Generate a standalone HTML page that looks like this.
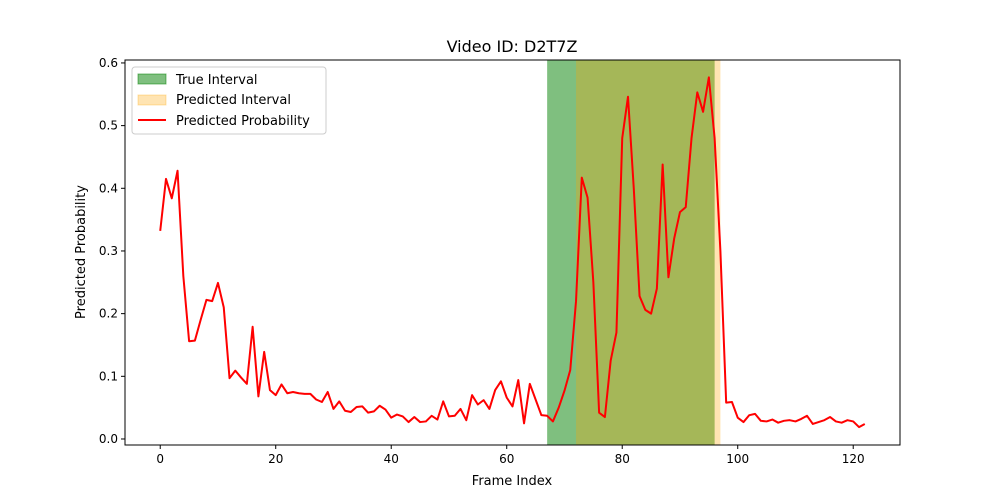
<!DOCTYPE html>
<html><head><meta charset="utf-8"><style>
html,body{margin:0;padding:0;background:#fff;}
svg{display:block;font-family:"DejaVu Sans","Liberation Sans",sans-serif;}
</style></head><body>
<svg id="chart" width="1000" height="500" viewBox="0 0 1000 500">
<text x="512" y="52" font-size="16" text-anchor="middle">Video ID: D2T7Z</text>
<g id="bands"></g>
<g id="xticks"></g>
<g id="yticks"></g>
<polyline id="line" fill="none" stroke="#ff0000" stroke-width="2" stroke-linejoin="round"/>
<rect x="125" y="60" width="775" height="385" fill="none" stroke="#000" stroke-width="1"/>
<text x="512" y="485" font-size="13" text-anchor="middle">Frame Index</text>
<text x="0" y="0" font-size="13" text-anchor="middle" transform="translate(85,252) rotate(-90)">Predicted Probability</text>
<g>
<rect x="132" y="67" width="194" height="67" rx="3" fill="#fff" fill-opacity="0.8" stroke="#ccc"/>
<rect x="138" y="74" width="28" height="10" fill="#008000" fill-opacity="0.5" stroke="#008000" stroke-opacity="0.5"/>
<text x="176" y="84" font-size="13">True Interval</text>
<rect x="138" y="95" width="28" height="10" fill="#ffa500" fill-opacity="0.3" stroke="#ffa500" stroke-opacity="0.3"/>
<text x="176" y="104" font-size="13">Predicted Interval</text>
<line x1="138" y1="120" x2="166" y2="120" stroke="#ff0000" stroke-width="2"/>
<text x="176" y="125" font-size="13">Predicted Probability</text>
</g>
</svg>
<script>
const probs=[0.332,0.415,0.384,0.428,0.26,0.156,0.157,0.19,0.222,0.22,0.249,0.21,0.097,0.109,0.098,0.088,0.179,0.068,0.139,0.078,0.07,0.087,0.073,0.075,0.073,0.072,0.072,0.063,0.059,0.075,0.048,0.06,0.045,0.043,0.051,0.052,0.042,0.044,0.053,0.047,0.034,0.039,0.036,0.027,0.035,0.027,0.028,0.037,0.031,0.06,0.036,0.037,0.048,0.03,0.07,0.055,0.062,0.048,0.078,0.092,0.066,0.052,0.094,0.025,0.088,0.063,0.038,0.037,0.028,0.05,0.077,0.11,0.22,0.417,0.385,0.25,0.042,0.035,0.125,0.17,0.48,0.546,0.4,0.228,0.206,0.2,0.24,0.438,0.258,0.32,0.362,0.37,0.48,0.553,0.522,0.577,0.48,0.3,0.058,0.059,0.034,0.027,0.038,0.04,0.029,0.028,0.031,0.026,0.029,0.03,0.028,0.032,0.037,0.024,0.027,0.03,0.035,0.028,0.026,0.03,0.028,0.019,0.024];
const trueInterval=[67,96];
const predInterval=[72,97];
const xTickVals=[0,20,40,60,80,100,120];
const yTickVals=[0,0.1,0.2,0.3,0.4,0.5,0.6];
const yTickLabels=["0.0","0.1","0.2","0.3","0.4","0.5","0.6"];
const X0=125,X1=900,Y0=445,Y1=60;
const xmin=-6.1,xmax=128.1,ymin=-0.0096,ymax=0.6047;
const xs=v=>X0+(v-xmin)/(xmax-xmin)*(X1-X0);
const ys=v=>Y0-(v-ymin)/(ymax-ymin)*(Y0-Y1);
const NS="http://www.w3.org/2000/svg";
const bands=document.getElementById('bands');
function band(iv,color,op,name){
 const r=document.createElementNS(NS,'rect');
 r.setAttribute('x',xs(iv[0]));r.setAttribute('y',Y1);
 r.setAttribute('width',xs(iv[1])-xs(iv[0]));r.setAttribute('height',Y0-Y1);
 r.setAttribute('fill',color);r.setAttribute('fill-opacity',op);
 
 
 bands.appendChild(r);
}
band(trueInterval,'#008000',0.5,'true-interval-band');
band(predInterval,'#ffa500',0.3,'predicted-interval-band');
document.getElementById('line').setAttribute('points',probs.map((p,i)=>xs(i)+','+ys(p)).join(' '));
const xt=document.getElementById('xticks');
xTickVals.forEach(v=>{
 const l=document.createElementNS(NS,'line');
 l.setAttribute('x1',xs(v));l.setAttribute('x2',xs(v));l.setAttribute('y1',Y0);l.setAttribute('y2',Y0+4);l.setAttribute('stroke','#000');
 
 
 xt.appendChild(l);
 const t=document.createElementNS(NS,'text');
 t.setAttribute('x',xs(v));t.setAttribute('y',Y0+18);t.setAttribute('font-size','12');t.setAttribute('text-anchor','middle');
 t.textContent=v;
 
 
 xt.appendChild(t);
});
const yt=document.getElementById('yticks');
yTickVals.forEach((v,i)=>{
 const l=document.createElementNS(NS,'line');
 l.setAttribute('x1',X0-4);l.setAttribute('x2',X0);l.setAttribute('y1',ys(v));l.setAttribute('y2',ys(v));l.setAttribute('stroke','#000');
 
 
 yt.appendChild(l);
 const t=document.createElementNS(NS,'text');
 t.setAttribute('x',X0-7);t.setAttribute('y',ys(v)+4);t.setAttribute('font-size','12');t.setAttribute('text-anchor','end');
 t.textContent=yTickLabels[i];
 
 
 yt.appendChild(t);
});
</script>
</body></html>
